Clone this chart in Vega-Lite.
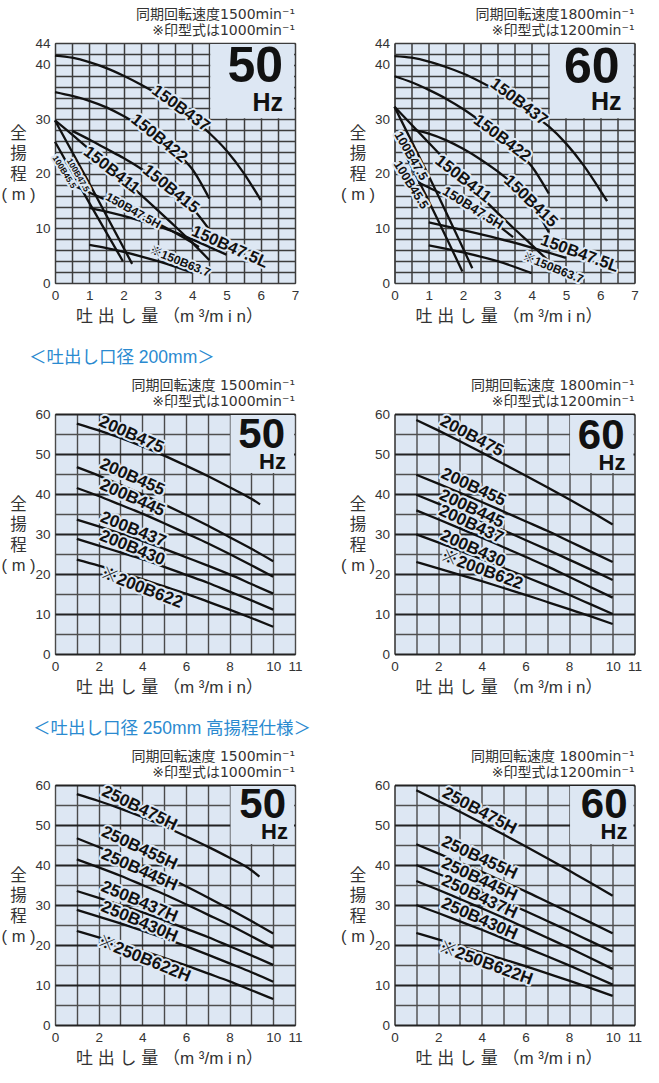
{
  "$schema": "https://vega.github.io/schema/vega-lite/v6.json",
  "background": "white",
  "padding": {"left": 0, "top": 7, "right": 0, "bottom": 0},
  "config": {
    "font": "Liberation Sans, Noto Sans CJK JP, sans-serif",
    "view": {"fill": "#dde7f3", "stroke": "#333333", "strokeWidth": 1},
    "axis": {
      "labelFont": "Liberation Sans, Noto Sans CJK JP",
      "labelFontSize": 13.5, "labelColor": "#333333", "labelPadding": 5,
      "labelFlush": false, "labelOverlap": false,
      "ticks": false, "domain": false, "grid": true, "gridOpacity": 1,
      "gridColor": "#3c3c3c", "gridWidth": 1.5,
      "titleFont": "Liberation Sans, Noto Sans CJK JP",
      "titleFontSize": 17, "titleFontWeight": "normal", "titleColor": "#333333"
    },
    "axisX": {"titleX": 114, "titleY": 33, "titleAlign": "center", "titleBaseline": "middle"},
    "axisY": {"titleAngle": 0, "titleX": -37, "titleY": 90, "titleAlign": "center", "titleBaseline": "middle", "titleLineHeight": 20.5, "titleFontSize": 16.5},
    "title": {"font": "DejaVu Sans, Noto Sans CJK JP", "fontSize": 14, "fontWeight": "normal", "color": "#333333", "anchor": "end", "frame": "group", "lineHeight": 16.5, "baseline": "bottom", "offset": -2},
    "concat": {"spacing": 99.5}
  },
  "datasets": {
    "curves": [
      {"p":1,"m":"150B437","q":0,"h":41.7},{"p":1,"m":"150B437","q":0.5,"h":41.3},{"p":1,"m":"150B437","q":1,"h":40.5},{"p":1,"m":"150B437","q":1.5,"h":39.4},{"p":1,"m":"150B437","q":2,"h":38.0},{"p":1,"m":"150B437","q":2.5,"h":36.4},{"p":1,"m":"150B437","q":3,"h":34.6},{"p":1,"m":"150B437","q":3.5,"h":32.5},{"p":1,"m":"150B437","q":4,"h":30.2},{"p":1,"m":"150B437","q":4.5,"h":27.5},{"p":1,"m":"150B437","q":5,"h":24.3},{"p":1,"m":"150B437","q":5.5,"h":20.2},{"p":1,"m":"150B437","q":6,"h":15.2},
      {"p":1,"m":"150B422","q":0,"h":35.0},{"p":1,"m":"150B422","q":0.5,"h":34.3},{"p":1,"m":"150B422","q":1,"h":33.4},{"p":1,"m":"150B422","q":1.5,"h":32.2},{"p":1,"m":"150B422","q":2,"h":30.6},{"p":1,"m":"150B422","q":2.5,"h":28.7},{"p":1,"m":"150B422","q":3,"h":26.6},{"p":1,"m":"150B422","q":3.5,"h":24.1},{"p":1,"m":"150B422","q":4,"h":20.9},{"p":1,"m":"150B422","q":4.5,"h":15.5},
      {"p":1,"m":"150B415","q":0.5,"h":27.9},{"p":1,"m":"150B415","q":1,"h":26.3},{"p":1,"m":"150B415","q":1.5,"h":24.6},{"p":1,"m":"150B415","q":2,"h":22.9},{"p":1,"m":"150B415","q":2.5,"h":21.0},{"p":1,"m":"150B415","q":3,"h":19.0},{"p":1,"m":"150B415","q":3.5,"h":16.7},{"p":1,"m":"150B415","q":4,"h":13.8},{"p":1,"m":"150B415","q":4.5,"h":9.8},
      {"p":1,"m":"150B411","q":0,"h":29.8},{"p":1,"m":"150B411","q":0.5,"h":27.2},{"p":1,"m":"150B411","q":1,"h":24.5},{"p":1,"m":"150B411","q":1.5,"h":21.8},{"p":1,"m":"150B411","q":2,"h":19.0},{"p":1,"m":"150B411","q":2.5,"h":16.2},{"p":1,"m":"150B411","q":3,"h":13.3},{"p":1,"m":"150B411","q":3.5,"h":10.4},{"p":1,"m":"150B411","q":4,"h":7.4},{"p":1,"m":"150B411","q":4.5,"h":4.2},
      {"p":1,"m":"100B47.5","q":0,"h":29.8},{"p":1,"m":"100B47.5","q":1,"h":18.3},{"p":1,"m":"100B47.5","q":2.25,"h":3.5},
      {"p":1,"m":"100B45.5","q":0,"h":25.9},{"p":1,"m":"100B45.5","q":1,"h":14.7},{"p":1,"m":"100B45.5","q":1.98,"h":4.0},
      {"p":1,"m":"150B47.5H","q":0.5,"h":18.0},{"p":1,"m":"150B47.5H","q":1,"h":16.6},{"p":1,"m":"150B47.5H","q":1.5,"h":15.2},{"p":1,"m":"150B47.5H","q":2,"h":13.8},{"p":1,"m":"150B47.5H","q":2.5,"h":12.4},{"p":1,"m":"150B47.5H","q":3,"h":10.9},{"p":1,"m":"150B47.5H","q":3.5,"h":9.2},{"p":1,"m":"150B47.5H","q":4,"h":7.4},{"p":1,"m":"150B47.5H","q":4.2,"h":6.6},
      {"p":1,"m":"150B47.5L","q":1,"h":13.8},{"p":1,"m":"150B47.5L","q":1.5,"h":13.1},{"p":1,"m":"150B47.5L","q":2,"h":12.3},{"p":1,"m":"150B47.5L","q":2.5,"h":11.4},{"p":1,"m":"150B47.5L","q":3,"h":10.4},{"p":1,"m":"150B47.5L","q":3.5,"h":9.3},{"p":1,"m":"150B47.5L","q":4,"h":8.0},{"p":1,"m":"150B47.5L","q":4.5,"h":6.6},{"p":1,"m":"150B47.5L","q":5,"h":5.2},
      {"p":1,"m":"150B63.7","q":1,"h":7.0},{"p":1,"m":"150B63.7","q":1.5,"h":6.4},{"p":1,"m":"150B63.7","q":2,"h":5.7},{"p":1,"m":"150B63.7","q":2.5,"h":4.9},{"p":1,"m":"150B63.7","q":3,"h":4.0},{"p":1,"m":"150B63.7","q":3.5,"h":3.0},{"p":1,"m":"150B63.7","q":4,"h":1.9},

      {"p":2,"m":"150B437","q":0,"h":41.6},{"p":2,"m":"150B437","q":0.5,"h":41.3},{"p":2,"m":"150B437","q":1,"h":40.6},{"p":2,"m":"150B437","q":1.5,"h":39.6},{"p":2,"m":"150B437","q":2,"h":38.4},{"p":2,"m":"150B437","q":2.5,"h":36.9},{"p":2,"m":"150B437","q":3,"h":35.2},{"p":2,"m":"150B437","q":3.5,"h":33.2},{"p":2,"m":"150B437","q":4,"h":31.0},{"p":2,"m":"150B437","q":4.5,"h":28.7},{"p":2,"m":"150B437","q":5,"h":25.6},{"p":2,"m":"150B437","q":5.5,"h":21.7},{"p":2,"m":"150B437","q":6,"h":17.0},{"p":2,"m":"150B437","q":6.2,"h":15.0},
      {"p":2,"m":"150B422","q":0,"h":37.9},{"p":2,"m":"150B422","q":0.5,"h":36.8},{"p":2,"m":"150B422","q":1,"h":35.4},{"p":2,"m":"150B422","q":1.5,"h":33.8},{"p":2,"m":"150B422","q":2,"h":31.9},{"p":2,"m":"150B422","q":2.5,"h":29.7},{"p":2,"m":"150B422","q":3,"h":27.3},{"p":2,"m":"150B422","q":3.5,"h":24.6},{"p":2,"m":"150B422","q":4,"h":21.4},{"p":2,"m":"150B422","q":4.5,"h":16.4},
      {"p":2,"m":"150B415","q":0.5,"h":28.1},{"p":2,"m":"150B415","q":1,"h":27.4},{"p":2,"m":"150B415","q":1.5,"h":26.2},{"p":2,"m":"150B415","q":2,"h":24.6},{"p":2,"m":"150B415","q":2.5,"h":22.7},{"p":2,"m":"150B415","q":3,"h":20.5},{"p":2,"m":"150B415","q":3.5,"h":17.9},{"p":2,"m":"150B415","q":4,"h":14.6},{"p":2,"m":"150B415","q":4.5,"h":9.3},
      {"p":2,"m":"150B411","q":0,"h":32.3},{"p":2,"m":"150B411","q":0.5,"h":29.0},{"p":2,"m":"150B411","q":1,"h":25.7},{"p":2,"m":"150B411","q":1.5,"h":22.4},{"p":2,"m":"150B411","q":2,"h":19.1},{"p":2,"m":"150B411","q":2.5,"h":16.0},{"p":2,"m":"150B411","q":3,"h":12.9},{"p":2,"m":"150B411","q":3.5,"h":9.9},{"p":2,"m":"150B411","q":4,"h":7.0},{"p":2,"m":"150B411","q":4.5,"h":4.0},
      {"p":2,"m":"100B47.5","q":0,"h":32.3},{"p":2,"m":"100B47.5","q":1,"h":19.6},{"p":2,"m":"100B47.5","q":2.27,"h":2.7},
      {"p":2,"m":"100B45.5","q":0,"h":27.4},{"p":2,"m":"100B45.5","q":1,"h":15.0},{"p":2,"m":"100B45.5","q":1.98,"h":2.1},
      {"p":2,"m":"150B47.5H","q":0.7,"h":18.4},{"p":2,"m":"150B47.5H","q":1,"h":17.5},{"p":2,"m":"150B47.5H","q":1.5,"h":16.0},{"p":2,"m":"150B47.5H","q":2,"h":14.4},{"p":2,"m":"150B47.5H","q":2.5,"h":12.6},{"p":2,"m":"150B47.5H","q":3,"h":10.6},{"p":2,"m":"150B47.5H","q":3.46,"h":8.4},
      {"p":2,"m":"150B47.5L","q":1,"h":11.1},{"p":2,"m":"150B47.5L","q":2,"h":9.7},{"p":2,"m":"150B47.5L","q":3,"h":8.2},{"p":2,"m":"150B47.5L","q":4,"h":6.5},{"p":2,"m":"150B47.5L","q":5,"h":4.6},
      {"p":2,"m":"150B63.7","q":1,"h":6.9},{"p":2,"m":"150B63.7","q":2,"h":5.6},{"p":2,"m":"150B63.7","q":3,"h":4.0},{"p":2,"m":"150B63.7","q":4,"h":1.8},

      {"p":3,"m":"200B475","q":1,"h":57.6},{"p":3,"m":"200B475","q":2,"h":55.9},{"p":3,"m":"200B475","q":3,"h":54.0},{"p":3,"m":"200B475","q":4,"h":51.9},{"p":3,"m":"200B475","q":5,"h":49.6},{"p":3,"m":"200B475","q":6,"h":47.1},{"p":3,"m":"200B475","q":7,"h":44.5},{"p":3,"m":"200B475","q":8,"h":41.7},{"p":3,"m":"200B475","q":9,"h":38.8},{"p":3,"m":"200B475","q":9.4,"h":37.4},
      {"p":3,"m":"200B455","q":1,"h":46.7},{"p":3,"m":"200B455","q":2,"h":44.6},{"p":3,"m":"200B455","q":3,"h":42.3},{"p":3,"m":"200B455","q":4,"h":39.9},{"p":3,"m":"200B455","q":5,"h":37.4},{"p":3,"m":"200B455","q":6,"h":34.8},{"p":3,"m":"200B455","q":7,"h":32.1},{"p":3,"m":"200B455","q":8,"h":29.2},{"p":3,"m":"200B455","q":9,"h":26.3},{"p":3,"m":"200B455","q":10,"h":23.2},
      {"p":3,"m":"200B445","q":1,"h":41.5},{"p":3,"m":"200B445","q":2,"h":39.5},{"p":3,"m":"200B445","q":3,"h":37.3},{"p":3,"m":"200B445","q":4,"h":35.1},{"p":3,"m":"200B445","q":5,"h":32.7},{"p":3,"m":"200B445","q":6,"h":30.2},{"p":3,"m":"200B445","q":7,"h":27.7},{"p":3,"m":"200B445","q":8,"h":25.0},{"p":3,"m":"200B445","q":9,"h":22.2},{"p":3,"m":"200B445","q":10,"h":19.3},
      {"p":3,"m":"200B437","q":1,"h":33.6},{"p":3,"m":"200B437","q":2,"h":31.9},{"p":3,"m":"200B437","q":3,"h":30.1},{"p":3,"m":"200B437","q":4,"h":28.3},{"p":3,"m":"200B437","q":5,"h":26.3},{"p":3,"m":"200B437","q":6,"h":24.2},{"p":3,"m":"200B437","q":7,"h":22.1},{"p":3,"m":"200B437","q":8,"h":19.9},{"p":3,"m":"200B437","q":9,"h":17.5},{"p":3,"m":"200B437","q":10,"h":15.1},
      {"p":3,"m":"200B430","q":1,"h":28.8},{"p":3,"m":"200B430","q":2,"h":27.1},{"p":3,"m":"200B430","q":3,"h":25.4},{"p":3,"m":"200B430","q":4,"h":23.7},{"p":3,"m":"200B430","q":5,"h":21.8},{"p":3,"m":"200B430","q":6,"h":19.8},{"p":3,"m":"200B430","q":7,"h":17.8},{"p":3,"m":"200B430","q":8,"h":15.6},{"p":3,"m":"200B430","q":9,"h":13.4},{"p":3,"m":"200B430","q":10,"h":11.1},
      {"p":3,"m":"200B622","q":1,"h":23.6},{"p":3,"m":"200B622","q":2,"h":22.1},{"p":3,"m":"200B622","q":3,"h":20.4},{"p":3,"m":"200B622","q":4,"h":18.7},{"p":3,"m":"200B622","q":5,"h":16.9},{"p":3,"m":"200B622","q":6,"h":15.1},{"p":3,"m":"200B622","q":7,"h":13.1},{"p":3,"m":"200B622","q":8,"h":11.1},{"p":3,"m":"200B622","q":9,"h":9.0},{"p":3,"m":"200B622","q":10,"h":6.8},

      {"p":4,"m":"200B475","q":1,"h":58.5},{"p":4,"m":"200B475","q":2,"h":55.9},{"p":4,"m":"200B475","q":3,"h":53.2},{"p":4,"m":"200B475","q":4,"h":50.4},{"p":4,"m":"200B475","q":5,"h":47.5},{"p":4,"m":"200B475","q":6,"h":44.6},{"p":4,"m":"200B475","q":7,"h":41.7},{"p":4,"m":"200B475","q":8,"h":38.7},{"p":4,"m":"200B475","q":9,"h":35.6},{"p":4,"m":"200B475","q":10,"h":32.4},
      {"p":4,"m":"200B455","q":1,"h":44.8},{"p":4,"m":"200B455","q":2,"h":42.6},{"p":4,"m":"200B455","q":3,"h":40.3},{"p":4,"m":"200B455","q":4,"h":38.0},{"p":4,"m":"200B455","q":5,"h":35.6},{"p":4,"m":"200B455","q":6,"h":33.2},{"p":4,"m":"200B455","q":7,"h":30.8},{"p":4,"m":"200B455","q":8,"h":28.2},{"p":4,"m":"200B455","q":9,"h":25.6},{"p":4,"m":"200B455","q":10,"h":23.0},
      {"p":4,"m":"200B445","q":1,"h":39.8},{"p":4,"m":"200B445","q":2,"h":37.6},{"p":4,"m":"200B445","q":3,"h":35.4},{"p":4,"m":"200B445","q":4,"h":33.2},{"p":4,"m":"200B445","q":5,"h":30.9},{"p":4,"m":"200B445","q":6,"h":28.5},{"p":4,"m":"200B445","q":7,"h":26.1},{"p":4,"m":"200B445","q":8,"h":23.6},{"p":4,"m":"200B445","q":9,"h":21.1},{"p":4,"m":"200B445","q":10,"h":18.5},
      {"p":4,"m":"200B437","q":1,"h":35.9},{"p":4,"m":"200B437","q":2,"h":33.7},{"p":4,"m":"200B437","q":3,"h":31.4},{"p":4,"m":"200B437","q":4,"h":29.1},{"p":4,"m":"200B437","q":5,"h":26.7},{"p":4,"m":"200B437","q":6,"h":24.3},{"p":4,"m":"200B437","q":7,"h":21.9},{"p":4,"m":"200B437","q":8,"h":19.3},{"p":4,"m":"200B437","q":9,"h":16.7},{"p":4,"m":"200B437","q":10,"h":14.1},
      {"p":4,"m":"200B430","q":1,"h":29.9},{"p":4,"m":"200B430","q":2,"h":27.9},{"p":4,"m":"200B430","q":3,"h":25.8},{"p":4,"m":"200B430","q":4,"h":23.7},{"p":4,"m":"200B430","q":5,"h":21.5},{"p":4,"m":"200B430","q":6,"h":19.3},{"p":4,"m":"200B430","q":7,"h":17.1},{"p":4,"m":"200B430","q":8,"h":14.8},{"p":4,"m":"200B430","q":9,"h":12.4},{"p":4,"m":"200B430","q":10,"h":10.0},
      {"p":4,"m":"200B622","q":1,"h":23.0},{"p":4,"m":"200B622","q":2,"h":21.4},{"p":4,"m":"200B622","q":3,"h":19.8},{"p":4,"m":"200B622","q":4,"h":18.2},{"p":4,"m":"200B622","q":5,"h":16.5},{"p":4,"m":"200B622","q":6,"h":14.8},{"p":4,"m":"200B622","q":7,"h":13.0},{"p":4,"m":"200B622","q":8,"h":11.2},{"p":4,"m":"200B622","q":9,"h":9.4},{"p":4,"m":"200B622","q":10,"h":7.5},

      {"p":5,"m":"250B475H","q":1,"h":57.7},{"p":5,"m":"250B475H","q":2,"h":56.0},{"p":5,"m":"250B475H","q":3,"h":54.1},{"p":5,"m":"250B475H","q":4,"h":52.0},{"p":5,"m":"250B475H","q":5,"h":49.7},{"p":5,"m":"250B475H","q":6,"h":47.2},{"p":5,"m":"250B475H","q":7,"h":44.6},{"p":5,"m":"250B475H","q":8,"h":41.8},{"p":5,"m":"250B475H","q":9,"h":38.7},{"p":5,"m":"250B475H","q":9.37,"h":37.1},
      {"p":5,"m":"250B455H","q":1,"h":46.7},{"p":5,"m":"250B455H","q":2,"h":44.5},{"p":5,"m":"250B455H","q":3,"h":42.2},{"p":5,"m":"250B455H","q":4,"h":39.8},{"p":5,"m":"250B455H","q":5,"h":37.3},{"p":5,"m":"250B455H","q":6,"h":34.7},{"p":5,"m":"250B455H","q":7,"h":31.9},{"p":5,"m":"250B455H","q":8,"h":29.0},{"p":5,"m":"250B455H","q":9,"h":26.0},{"p":5,"m":"250B455H","q":10,"h":22.9},
      {"p":5,"m":"250B445H","q":1,"h":41.4},{"p":5,"m":"250B445H","q":2,"h":39.4},{"p":5,"m":"250B445H","q":3,"h":37.3},{"p":5,"m":"250B445H","q":4,"h":35.0},{"p":5,"m":"250B445H","q":5,"h":32.7},{"p":5,"m":"250B445H","q":6,"h":30.2},{"p":5,"m":"250B445H","q":7,"h":27.6},{"p":5,"m":"250B445H","q":8,"h":25.0},{"p":5,"m":"250B445H","q":9,"h":22.2},{"p":5,"m":"250B445H","q":10,"h":19.3},
      {"p":5,"m":"250B437H","q":1,"h":33.5},{"p":5,"m":"250B437H","q":2,"h":31.8},{"p":5,"m":"250B437H","q":3,"h":30.0},{"p":5,"m":"250B437H","q":4,"h":28.2},{"p":5,"m":"250B437H","q":5,"h":26.2},{"p":5,"m":"250B437H","q":6,"h":24.1},{"p":5,"m":"250B437H","q":7,"h":22.0},{"p":5,"m":"250B437H","q":8,"h":19.7},{"p":5,"m":"250B437H","q":9,"h":17.4},{"p":5,"m":"250B437H","q":10,"h":15.0},
      {"p":5,"m":"250B430H","q":1,"h":28.8},{"p":5,"m":"250B430H","q":2,"h":27.1},{"p":5,"m":"250B430H","q":3,"h":25.4},{"p":5,"m":"250B430H","q":4,"h":23.6},{"p":5,"m":"250B430H","q":5,"h":21.7},{"p":5,"m":"250B430H","q":6,"h":19.7},{"p":5,"m":"250B430H","q":7,"h":17.6},{"p":5,"m":"250B430H","q":8,"h":15.4},{"p":5,"m":"250B430H","q":9,"h":13.2},{"p":5,"m":"250B430H","q":10,"h":10.8},
      {"p":5,"m":"250B622H","q":1,"h":23.5},{"p":5,"m":"250B622H","q":2,"h":21.9},{"p":5,"m":"250B622H","q":3,"h":20.3},{"p":5,"m":"250B622H","q":4,"h":18.6},{"p":5,"m":"250B622H","q":5,"h":16.8},{"p":5,"m":"250B622H","q":6,"h":14.9},{"p":5,"m":"250B622H","q":7,"h":12.9},{"p":5,"m":"250B622H","q":8,"h":10.9},{"p":5,"m":"250B622H","q":9,"h":8.7},{"p":5,"m":"250B622H","q":10,"h":6.5},

      {"p":6,"m":"250B475H","q":1,"h":58.7},{"p":6,"m":"250B475H","q":2,"h":56.0},{"p":6,"m":"250B475H","q":3,"h":53.3},{"p":6,"m":"250B475H","q":4,"h":50.5},{"p":6,"m":"250B475H","q":5,"h":47.6},{"p":6,"m":"250B475H","q":6,"h":44.7},{"p":6,"m":"250B475H","q":7,"h":41.7},{"p":6,"m":"250B475H","q":8,"h":38.6},{"p":6,"m":"250B475H","q":9,"h":35.5},{"p":6,"m":"250B475H","q":10,"h":32.3},
      {"p":6,"m":"250B455H","q":1,"h":45.2},{"p":6,"m":"250B455H","q":2,"h":42.9},{"p":6,"m":"250B455H","q":3,"h":40.6},{"p":6,"m":"250B455H","q":4,"h":38.3},{"p":6,"m":"250B455H","q":5,"h":35.8},{"p":6,"m":"250B455H","q":6,"h":33.4},{"p":6,"m":"250B455H","q":7,"h":30.8},{"p":6,"m":"250B455H","q":8,"h":28.2},{"p":6,"m":"250B455H","q":9,"h":25.6},{"p":6,"m":"250B455H","q":10,"h":22.9},
      {"p":6,"m":"250B445H","q":1,"h":40.0},{"p":6,"m":"250B445H","q":2,"h":37.8},{"p":6,"m":"250B445H","q":3,"h":35.6},{"p":6,"m":"250B445H","q":4,"h":33.2},{"p":6,"m":"250B445H","q":5,"h":30.9},{"p":6,"m":"250B445H","q":6,"h":28.5},{"p":6,"m":"250B445H","q":7,"h":26.0},{"p":6,"m":"250B445H","q":8,"h":23.5},{"p":6,"m":"250B445H","q":9,"h":20.9},{"p":6,"m":"250B445H","q":10,"h":18.3},
      {"p":6,"m":"250B437H","q":1,"h":36.0},{"p":6,"m":"250B437H","q":2,"h":33.8},{"p":6,"m":"250B437H","q":3,"h":31.5},{"p":6,"m":"250B437H","q":4,"h":29.2},{"p":6,"m":"250B437H","q":5,"h":26.8},{"p":6,"m":"250B437H","q":6,"h":24.3},{"p":6,"m":"250B437H","q":7,"h":21.8},{"p":6,"m":"250B437H","q":8,"h":19.3},{"p":6,"m":"250B437H","q":9,"h":16.7},{"p":6,"m":"250B437H","q":10,"h":14.0},
      {"p":6,"m":"250B430H","q":1,"h":30.0},{"p":6,"m":"250B430H","q":2,"h":28.0},{"p":6,"m":"250B430H","q":3,"h":25.9},{"p":6,"m":"250B430H","q":4,"h":23.8},{"p":6,"m":"250B430H","q":5,"h":21.6},{"p":6,"m":"250B430H","q":6,"h":19.4},{"p":6,"m":"250B430H","q":7,"h":17.2},{"p":6,"m":"250B430H","q":8,"h":14.9},{"p":6,"m":"250B430H","q":9,"h":12.5},{"p":6,"m":"250B430H","q":10,"h":10.1},
      {"p":6,"m":"250B622H","q":1,"h":23.0},{"p":6,"m":"250B622H","q":2,"h":21.4},{"p":6,"m":"250B622H","q":3,"h":19.8},{"p":6,"m":"250B622H","q":4,"h":18.1},{"p":6,"m":"250B622H","q":5,"h":16.4},{"p":6,"m":"250B622H","q":6,"h":14.7},{"p":6,"m":"250B622H","q":7,"h":12.9},{"p":6,"m":"250B622H","q":8,"h":11.1},{"p":6,"m":"250B622H","q":9,"h":9.2},{"p":6,"m":"250B622H","q":10,"h":7.3}
    ],
    "labels": [
      {"p":1,"t":"150B437","q":3.67,"h":32.0,"a":36},
      {"p":1,"t":"150B422","q":3.04,"h":26.5,"a":39},
      {"p":1,"t":"150B415","q":3.38,"h":17.2,"a":39},
      {"p":1,"t":"150B411","q":1.65,"h":20.7,"a":38},
      {"p":1,"t":"150B47.5H","q":2.28,"h":13.3,"a":29},
      {"p":1,"t":"100B47.5","q":0.68,"h":19.8,"a":60},
      {"p":1,"t":"100B45.5","q":0.28,"h":20.4,"a":58},
      {"p":1,"t":"150B47.5L","q":5.1,"h":6.6,"a":24},
      {"p":1,"t":"※150B63.7","q":3.65,"h":4.0,"a":22},
      {"p":2,"t":"150B437","q":3.63,"h":33.2,"a":37},
      {"p":2,"t":"150B422","q":3.14,"h":26.5,"a":37},
      {"p":2,"t":"150B415","q":3.97,"h":15.0,"a":44},
      {"p":2,"t":"150B411","q":2.0,"h":19.1,"a":38},
      {"p":2,"t":"150B47.5H","q":2.28,"h":13.7,"a":32},
      {"p":2,"t":"100B47.5","q":0.48,"h":23.3,"a":60},
      {"p":2,"t":"100B45.5","q":0.48,"h":18.0,"a":58},
      {"p":2,"t":"150B47.5L","q":5.4,"h":5.4,"a":20},
      {"p":2,"t":"※150B63.7","q":4.63,"h":2.8,"a":22},
      {"p":3,"t":"200B475","q":3.5,"h":54.8,"a":24},
      {"p":3,"t":"200B455","q":3.54,"h":44.2,"a":24},
      {"p":3,"t":"200B445","q":3.54,"h":39.0,"a":24},
      {"p":3,"t":"200B437","q":3.58,"h":31.1,"a":22},
      {"p":3,"t":"200B430","q":3.54,"h":26.5,"a":22},
      {"p":3,"t":"※200B622","q":3.97,"h":16.5,"a":21},
      {"p":4,"t":"200B475","q":3.54,"h":54.4,"a":28},
      {"p":4,"t":"200B455","q":3.62,"h":41.7,"a":25},
      {"p":4,"t":"200B445","q":3.54,"h":36.3,"a":25},
      {"p":4,"t":"200B437","q":3.51,"h":32.4,"a":25},
      {"p":4,"t":"200B430","q":3.59,"h":26.3,"a":24},
      {"p":4,"t":"※200B622","q":4.0,"h":21.0,"a":20},
      {"p":5,"t":"250B475H","q":3.87,"h":54.2,"a":26},
      {"p":5,"t":"250B455H","q":3.87,"h":44.2,"a":25},
      {"p":5,"t":"250B445H","q":3.87,"h":38.75,"a":24},
      {"p":5,"t":"250B437H","q":3.87,"h":30.8,"a":23},
      {"p":5,"t":"250B430H","q":3.87,"h":25.8,"a":23},
      {"p":5,"t":"※250B622H","q":4.09,"h":16.5,"a":22},
      {"p":6,"t":"250B475H","q":3.89,"h":53.5,"a":28},
      {"p":6,"t":"250B455H","q":3.89,"h":41.8,"a":25},
      {"p":6,"t":"250B445H","q":3.89,"h":36.4,"a":25},
      {"p":6,"t":"250B437H","q":3.89,"h":32.0,"a":25},
      {"p":6,"t":"250B430H","q":3.89,"h":26.5,"a":24},
      {"p":6,"t":"※250B622H","q":4.19,"h":15.4,"a":20}
    ]
  },
  "vconcat": [
    {
      "bounds": "flush",
      "hconcat": [
        {
          "width": 240, "height": 240,
          "title": {"text": ["同期回転速度1500min⁻¹", "※印型式は1000min⁻¹"]},
          "encoding": {
            "x": {"field": "q", "type": "quantitative", "scale": {"domain": [0, 7], "nice": false, "zero": false},
                  "axis": {"values": [0,0.5,1,1.5,2,2.5,3,3.5,4,4.5,5,5.5,6,6.5,7], "labelExpr": "datum.value % 1 ? '' : format(datum.value, 'd')", "title": "吐 出 し 量 （m ³/m i n）"}},
            "y": {"field": "h", "type": "quantitative", "scale": {"domain": [0, 44], "nice": false, "zero": false},
                  "axis": {"values": [0,2,4,6,8,10,12,14,16,18,20,22,24,26,28,30,32,34,36,38,40,42,44], "labelExpr": "indexof([0,10,20,30,40,44], datum.value) >= 0 ? datum.label : ''", "title": ["全","揚","程","( m )"]}}
          },
          "layer": [
            {"data": {"values": [{"q": 4.5, "q2": 7, "h": 44, "h2": 30}]},
             "mark": {"type": "rect", "fill": "#dde7f3", "xOffset": 1, "x2Offset": -1, "yOffset": 1, "y2Offset": -1},
             "encoding": {"x2": {"field": "q2"}, "y2": {"field": "h2"}}},
            {"data": {"name": "curves"}, "transform": [{"filter": "datum.p == 1"}],
             "mark": {"type": "line", "color": "#111111", "strokeWidth": 2.3, "interpolate": "monotone"},
             "encoding": {"detail": {"field": "m"}}},
            {"data": {"name": "labels"}, "transform": [{"filter": "datum.p == 1"}],
             "encoding": {"text": {"field": "t"}, "angle": {"field": "a", "type": "quantitative", "scale": null},
               "size": {"condition": [{"test": "indexof(['100B47.5','100B45.5'], datum.t) >= 0", "value": 8.5}, {"test": "indexof(['150B47.5H','※150B63.7'], datum.t) >= 0", "value": 12}], "value": 16.5}},
             "layer": [
               {"mark": {"type": "text", "fontWeight": "bold", "fill": "#dde7f3", "stroke": "#dde7f3", "strokeWidth": 4, "strokeJoin": "round"}},
               {"mark": {"type": "text", "fontWeight": "bold", "fill": "#111111"}}
             ]},
            {"data": {"values": [{"q": 7, "h": 44}]},
             "mark": {"type": "text", "text": "50", "fontSize": 50, "fontWeight": "bold", "align": "right", "baseline": "middle", "xOffset": -12, "yOffset": 24, "fill": "#111111"}},
            {"data": {"values": [{"q": 7, "h": 44}]},
             "mark": {"type": "text", "text": "Hz", "fontSize": 25, "fontWeight": "bold", "align": "right", "baseline": "middle", "xOffset": -12, "yOffset": 60, "fill": "#111111"}}
          ]
        },
        {
          "width": 240, "height": 240,
          "title": {"text": ["同期回転速度1800min⁻¹", "※印型式は1200min⁻¹"]},
          "encoding": {
            "x": {"field": "q", "type": "quantitative", "scale": {"domain": [0, 7], "nice": false, "zero": false},
                  "axis": {"values": [0,0.5,1,1.5,2,2.5,3,3.5,4,4.5,5,5.5,6,6.5,7], "labelExpr": "datum.value % 1 ? '' : format(datum.value, 'd')", "title": "吐 出 し 量 （m ³/m i n）"}},
            "y": {"field": "h", "type": "quantitative", "scale": {"domain": [0, 44], "nice": false, "zero": false},
                  "axis": {"values": [0,2,4,6,8,10,12,14,16,18,20,22,24,26,28,30,32,34,36,38,40,42,44], "labelExpr": "indexof([0,10,20,30,40,44], datum.value) >= 0 ? datum.label : ''", "title": ["全","揚","程","( m )"]}}
          },
          "layer": [
            {"data": {"values": [{"q": 4.5, "q2": 7, "h": 44, "h2": 30}]},
             "mark": {"type": "rect", "fill": "#dde7f3", "xOffset": 1, "x2Offset": -1, "yOffset": 1, "y2Offset": -1},
             "encoding": {"x2": {"field": "q2"}, "y2": {"field": "h2"}}},
            {"data": {"name": "curves"}, "transform": [{"filter": "datum.p == 2"}],
             "mark": {"type": "line", "color": "#111111", "strokeWidth": 2.3, "interpolate": "monotone"},
             "encoding": {"detail": {"field": "m"}}},
            {"data": {"name": "labels"}, "transform": [{"filter": "datum.p == 2"}],
             "encoding": {"text": {"field": "t"}, "angle": {"field": "a", "type": "quantitative", "scale": null},
               "size": {"condition": [{"test": "indexof(['100B47.5','100B45.5'], datum.t) >= 0", "value": 12.5}, {"test": "datum.t == '150B47.5H'", "value": 13.5}, {"test": "datum.t == '※150B63.7'", "value": 12}], "value": 16.5}},
             "layer": [
               {"mark": {"type": "text", "fontWeight": "bold", "fill": "#dde7f3", "stroke": "#dde7f3", "strokeWidth": 4, "strokeJoin": "round"}},
               {"mark": {"type": "text", "fontWeight": "bold", "fill": "#111111"}}
             ]},
            {"data": {"values": [{"q": 7, "h": 44}]},
             "mark": {"type": "text", "text": "60", "fontSize": 50, "fontWeight": "bold", "align": "right", "baseline": "middle", "xOffset": -15, "yOffset": 24.5, "fill": "#111111"}},
            {"data": {"values": [{"q": 7, "h": 44}]},
             "mark": {"type": "text", "text": "Hz", "fontSize": 25, "fontWeight": "bold", "align": "right", "baseline": "middle", "xOffset": -13, "yOffset": 59, "fill": "#111111"}}
          ]
        }
      ]
    },
    {
      "bounds": "flush",
      "title": {"text": "＜吐出し口径 200mm＞", "anchor": "start", "color": "#2a8ad0", "font": "Liberation Sans, Noto Sans CJK JP", "fontSize": 17.5, "dx": -26, "offset": 12},
      "hconcat": [
        {
          "width": 240, "height": 240,
          "title": {"text": ["同期回転速度 1500min⁻¹", "※印型式は1000min⁻¹"]},
          "encoding": {
            "x": {"field": "q", "type": "quantitative", "scale": {"domain": [0, 11], "nice": false, "zero": false},
                  "axis": {"values": [0,1,2,3,4,5,6,7,8,9,10,11], "labelExpr": "indexof([0,2,4,6,8,10,11], datum.value) >= 0 ? datum.label : ''", "title": "吐 出 し 量 （m ³/m i n）", "gridColor": "#4a4a4a", "gridWidth": 1.4}},
            "y": {"field": "h", "type": "quantitative", "scale": {"domain": [0, 60], "nice": false, "zero": false},
                  "axis": {"values": [0,5,10,15,20,25,30,35,40,45,50,55,60], "labelExpr": "datum.value % 10 ? '' : datum.label", "title": ["全","揚","程","( m )"],
                           "gridColor": {"condition": {"test": "datum.value % 10 === 0", "value": "#222222"}, "value": "#505050"},
                           "gridWidth": {"condition": {"test": "datum.value % 10 === 0", "value": 2}, "value": 1.3}}}
          },
          "layer": [
            {"data": {"values": [{"q": 8, "q2": 11, "h": 60, "h2": 45}]},
             "mark": {"type": "rect", "fill": "#dde7f3", "xOffset": 1, "x2Offset": -1, "yOffset": 1, "y2Offset": -1},
             "encoding": {"x2": {"field": "q2"}, "y2": {"field": "h2"}}},
            {"data": {"name": "curves"}, "transform": [{"filter": "datum.p == 3"}],
             "mark": {"type": "line", "color": "#111111", "strokeWidth": 2.3, "interpolate": "monotone"},
             "encoding": {"detail": {"field": "m"}}},
            {"data": {"name": "labels"}, "transform": [{"filter": "datum.p == 3"}],
             "encoding": {"text": {"field": "t"}, "angle": {"field": "a", "type": "quantitative", "scale": null}, "size": {"value": 17}},
             "layer": [
               {"mark": {"type": "text", "fontWeight": "bold", "fill": "#dde7f3", "stroke": "#dde7f3", "strokeWidth": 4, "strokeJoin": "round"}},
               {"mark": {"type": "text", "fontWeight": "bold", "fill": "#111111"}}
             ]},
            {"data": {"values": [{"q": 11, "h": 60}]},
             "mark": {"type": "text", "text": "50", "fontSize": 42, "fontWeight": "bold", "align": "right", "baseline": "middle", "xOffset": -10, "yOffset": 21, "fill": "#111111"}},
            {"data": {"values": [{"q": 11, "h": 60}]},
             "mark": {"type": "text", "text": "Hz", "fontSize": 22, "fontWeight": "bold", "align": "right", "baseline": "middle", "xOffset": -9, "yOffset": 47.7, "fill": "#111111"}}
          ]
        },
        {
          "width": 240, "height": 240,
          "title": {"text": ["同期回転速度 1800min⁻¹", "※印型式は1200min⁻¹"]},
          "encoding": {
            "x": {"field": "q", "type": "quantitative", "scale": {"domain": [0, 11], "nice": false, "zero": false},
                  "axis": {"values": [0,1,2,3,4,5,6,7,8,9,10,11], "labelExpr": "indexof([0,2,4,6,8,10,11], datum.value) >= 0 ? datum.label : ''", "title": "吐 出 し 量 （m ³/m i n）", "gridColor": "#4a4a4a", "gridWidth": 1.4}},
            "y": {"field": "h", "type": "quantitative", "scale": {"domain": [0, 60], "nice": false, "zero": false},
                  "axis": {"values": [0,5,10,15,20,25,30,35,40,45,50,55,60], "labelExpr": "datum.value % 10 ? '' : datum.label", "title": ["全","揚","程","( m )"],
                           "gridColor": {"condition": {"test": "datum.value % 10 === 0", "value": "#222222"}, "value": "#505050"},
                           "gridWidth": {"condition": {"test": "datum.value % 10 === 0", "value": 2}, "value": 1.3}}}
          },
          "layer": [
            {"data": {"values": [{"q": 8, "q2": 11, "h": 60, "h2": 45}]},
             "mark": {"type": "rect", "fill": "#dde7f3", "xOffset": 1, "x2Offset": -1, "yOffset": 1, "y2Offset": -1},
             "encoding": {"x2": {"field": "q2"}, "y2": {"field": "h2"}}},
            {"data": {"name": "curves"}, "transform": [{"filter": "datum.p == 4"}],
             "mark": {"type": "line", "color": "#111111", "strokeWidth": 2.3, "interpolate": "monotone"},
             "encoding": {"detail": {"field": "m"}}},
            {"data": {"name": "labels"}, "transform": [{"filter": "datum.p == 4"}],
             "encoding": {"text": {"field": "t"}, "angle": {"field": "a", "type": "quantitative", "scale": null}, "size": {"value": 17}},
             "layer": [
               {"mark": {"type": "text", "fontWeight": "bold", "fill": "#dde7f3", "stroke": "#dde7f3", "strokeWidth": 4, "strokeJoin": "round"}},
               {"mark": {"type": "text", "fontWeight": "bold", "fill": "#111111"}}
             ]},
            {"data": {"values": [{"q": 11, "h": 60}]},
             "mark": {"type": "text", "text": "60", "fontSize": 42, "fontWeight": "bold", "align": "right", "baseline": "middle", "xOffset": -10, "yOffset": 22, "fill": "#111111"}},
            {"data": {"values": [{"q": 11, "h": 60}]},
             "mark": {"type": "text", "text": "Hz", "fontSize": 22, "fontWeight": "bold", "align": "right", "baseline": "middle", "xOffset": -9, "yOffset": 48.5, "fill": "#111111"}}
          ]
        }
      ]
    },
    {
      "bounds": "flush",
      "title": {"text": "＜吐出し口径 250mm 高揚程仕様＞", "anchor": "start", "color": "#2a8ad0", "font": "Liberation Sans, Noto Sans CJK JP", "fontSize": 17.5, "dx": -22, "offset": 12},
      "hconcat": [
        {
          "width": 240, "height": 240,
          "title": {"text": ["同期回転速度 1500min⁻¹", "※印型式は1000min⁻¹"]},
          "encoding": {
            "x": {"field": "q", "type": "quantitative", "scale": {"domain": [0, 11], "nice": false, "zero": false},
                  "axis": {"values": [0,1,2,3,4,5,6,7,8,9,10,11], "labelExpr": "indexof([0,2,4,6,8,10,11], datum.value) >= 0 ? datum.label : ''", "title": "吐 出 し 量 （m ³/m i n）", "gridColor": "#4a4a4a", "gridWidth": 1.4}},
            "y": {"field": "h", "type": "quantitative", "scale": {"domain": [0, 60], "nice": false, "zero": false},
                  "axis": {"values": [0,5,10,15,20,25,30,35,40,45,50,55,60], "labelExpr": "datum.value % 10 ? '' : datum.label", "title": ["全","揚","程","( m )"],
                           "gridColor": {"condition": {"test": "datum.value % 10 === 0", "value": "#222222"}, "value": "#505050"},
                           "gridWidth": {"condition": {"test": "datum.value % 10 === 0", "value": 2}, "value": 1.3}}}
          },
          "layer": [
            {"data": {"values": [{"q": 8, "q2": 11, "h": 60, "h2": 45}]},
             "mark": {"type": "rect", "fill": "#dde7f3", "xOffset": 1, "x2Offset": -1, "yOffset": 1, "y2Offset": -1},
             "encoding": {"x2": {"field": "q2"}, "y2": {"field": "h2"}}},
            {"data": {"name": "curves"}, "transform": [{"filter": "datum.p == 5"}],
             "mark": {"type": "line", "color": "#111111", "strokeWidth": 2.3, "interpolate": "monotone"},
             "encoding": {"detail": {"field": "m"}}},
            {"data": {"name": "labels"}, "transform": [{"filter": "datum.p == 5"}],
             "encoding": {"text": {"field": "t"}, "angle": {"field": "a", "type": "quantitative", "scale": null}, "size": {"value": 17}},
             "layer": [
               {"mark": {"type": "text", "fontWeight": "bold", "fill": "#dde7f3", "stroke": "#dde7f3", "strokeWidth": 4, "strokeJoin": "round"}},
               {"mark": {"type": "text", "fontWeight": "bold", "fill": "#111111"}}
             ]},
            {"data": {"values": [{"q": 11, "h": 60}]},
             "mark": {"type": "text", "text": "50", "fontSize": 42, "fontWeight": "bold", "align": "right", "baseline": "middle", "xOffset": -9, "yOffset": 20.3, "fill": "#111111"}},
            {"data": {"values": [{"q": 11, "h": 60}]},
             "mark": {"type": "text", "text": "Hz", "fontSize": 22, "fontWeight": "bold", "align": "right", "baseline": "middle", "xOffset": -7, "yOffset": 47.3, "fill": "#111111"}}
          ]
        },
        {
          "width": 240, "height": 240,
          "title": {"text": ["同期回転速度 1800min⁻¹", "※印型式は1200min⁻¹"]},
          "encoding": {
            "x": {"field": "q", "type": "quantitative", "scale": {"domain": [0, 11], "nice": false, "zero": false},
                  "axis": {"values": [0,1,2,3,4,5,6,7,8,9,10,11], "labelExpr": "indexof([0,2,4,6,8,10,11], datum.value) >= 0 ? datum.label : ''", "title": "吐 出 し 量 （m ³/m i n）", "gridColor": "#4a4a4a", "gridWidth": 1.4}},
            "y": {"field": "h", "type": "quantitative", "scale": {"domain": [0, 60], "nice": false, "zero": false},
                  "axis": {"values": [0,5,10,15,20,25,30,35,40,45,50,55,60], "labelExpr": "datum.value % 10 ? '' : datum.label", "title": ["全","揚","程","( m )"],
                           "gridColor": {"condition": {"test": "datum.value % 10 === 0", "value": "#222222"}, "value": "#505050"},
                           "gridWidth": {"condition": {"test": "datum.value % 10 === 0", "value": 2}, "value": 1.3}}}
          },
          "layer": [
            {"data": {"values": [{"q": 8, "q2": 11, "h": 60, "h2": 45}]},
             "mark": {"type": "rect", "fill": "#dde7f3", "xOffset": 1, "x2Offset": -1, "yOffset": 1, "y2Offset": -1},
             "encoding": {"x2": {"field": "q2"}, "y2": {"field": "h2"}}},
            {"data": {"name": "curves"}, "transform": [{"filter": "datum.p == 6"}],
             "mark": {"type": "line", "color": "#111111", "strokeWidth": 2.3, "interpolate": "monotone"},
             "encoding": {"detail": {"field": "m"}}},
            {"data": {"name": "labels"}, "transform": [{"filter": "datum.p == 6"}],
             "encoding": {"text": {"field": "t"}, "angle": {"field": "a", "type": "quantitative", "scale": null}, "size": {"value": 17}},
             "layer": [
               {"mark": {"type": "text", "fontWeight": "bold", "fill": "#dde7f3", "stroke": "#dde7f3", "strokeWidth": 4, "strokeJoin": "round"}},
               {"mark": {"type": "text", "fontWeight": "bold", "fill": "#111111"}}
             ]},
            {"data": {"values": [{"q": 11, "h": 60}]},
             "mark": {"type": "text", "text": "60", "fontSize": 42, "fontWeight": "bold", "align": "right", "baseline": "middle", "xOffset": -7, "yOffset": 20, "fill": "#111111"}},
            {"data": {"values": [{"q": 11, "h": 60}]},
             "mark": {"type": "text", "text": "Hz", "fontSize": 22, "fontWeight": "bold", "align": "right", "baseline": "middle", "xOffset": -7, "yOffset": 47, "fill": "#111111"}}
          ]
        }
      ]
    }
  ],
  "spacing": 23
}
